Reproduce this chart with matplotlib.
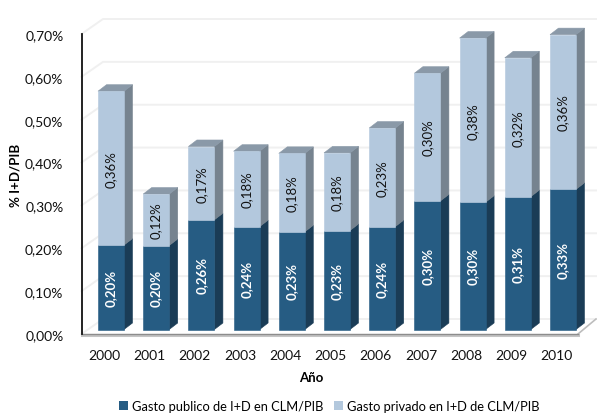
"""Stacked pseudo-3D bars: public and private R&D spend over GDP in CLM."""

import matplotlib

matplotlib.use("Agg")
import matplotlib.pyplot as plt
from matplotlib.patches import Patch, Polygon
from matplotlib.transforms import ScaledTranslation

years = ["2000", "2001", "2002", "2003", "2004", "2005", "2006", "2007", "2008", "2009", "2010"]
publico = [0.197, 0.196, 0.256, 0.240, 0.228, 0.231, 0.240, 0.300, 0.297, 0.310, 0.327]
privado = [0.359, 0.120, 0.171, 0.176, 0.183, 0.181, 0.230, 0.298, 0.383, 0.324, 0.361]
y_ticks = [0.0, 0.1, 0.2, 0.3, 0.4, 0.5, 0.6, 0.7]

W, H = 597, 414
BAR_W = 26 / 45.2
BASE = 0.0105
DX, DY = 8.5 / 45.2, 0.0152
WALL_DX, WALL_DY = 21.5 / 45.2, 0.035


def pct(v):
    return f"{v:.2f}%".replace(".", ",")


def draw_box(ax, x, y0, y1, front, side, top=None):
    l, r = x - BAR_W / 2, x + BAR_W / 2
    ax.add_patch(Polygon([(l, y0), (r, y0), (r, y1), (l, y1)], fc=front, ec=front, lw=0.4, zorder=4, clip_on=False))
    ax.add_patch(Polygon([(r, y0), (r + DX, y0 + DY), (r + DX, y1 + DY), (r, y1)], fc=side, ec=side, lw=0.4, zorder=3, clip_on=False))
    if top:
        ax.add_patch(Polygon([(l, y1), (r, y1), (r + DX, y1 + DY), (l + DX, y1 + DY)], fc=top, ec=top, lw=0.4, zorder=3, clip_on=False))


plt.rcParams["font.family"] = ["Lato", "DejaVu Sans"]
fig = plt.figure(figsize=(W / 100, H / 100), dpi=100)
ax = fig.add_axes([81.5 / W, (H - 335) / H, (W - 81.5) / W, 300 / H])
ax.set_xlim((81.5 - 111) / 45.2, (597 - 111) / 45.2)
ax.set_ylim(0, 0.7)

x0, x1 = ax.get_xlim()
# back wall and floor
for t in y_ticks:
    ax.plot([x0, x0 + WALL_DX, x1], [t, t + WALL_DY, t + WALL_DY], color="#f0f0f0", lw=1.4, clip_on=False, zorder=1)
floor_right = (578 - 111) / 45.2
ax.plot([floor_right, floor_right + 18 / 45.2], [0, WALL_DY], color="#bdbdbd", lw=1.2, clip_on=False, zorder=2)
ax.plot([x0, floor_right], [-0.002, -0.002], color="#c4c4c4", lw=2.2, clip_on=False, zorder=2)
ax.plot([x0, floor_right], [0, 0], color="#8c8c8c", lw=1.0, clip_on=False, zorder=2)

for i, (pub, pri) in enumerate(zip(publico, privado)):
    draw_box(ax, i, BASE, BASE + pub, "#265c83", "#1a3c56")
    draw_box(ax, i, BASE + pub, BASE + pub + pri, "#b3c8dd", "#76838f", "#8a99a8")
    ax.text(i, BASE + pub / 2, pct(pub), rotation=90, ha="center", va="center",
            color="white", fontsize=9.5, fontweight="bold", zorder=5)
    ax.text(i, BASE + pub + pri / 2, pct(pri), rotation=90, ha="center", va="center",
            color="#111111", fontsize=9.5, zorder=5)

ax.set_xticks(range(len(years)), years)
ax.set_yticks(y_ticks, [pct(t) for t in y_ticks])
ax.tick_params(axis="both", length=0, labelsize=10, colors="#111111")
ax.tick_params(axis="x", pad=11)
ax.tick_params(axis="y", pad=13)
# year labels sit left of the bar fronts in the original
shift = ScaledTranslation(-6.5 / 100, 0, fig.dpi_scale_trans)
for label in ax.get_xticklabels():
    label.set_transform(label.get_transform() + shift)
for name in ["top", "right", "bottom"]:
    ax.spines[name].set_visible(False)
ax.spines["left"].set_linewidth(1.3)
ax.spines["left"].set_color("#111111")
ax.patch.set_alpha(0)

fig.text(311 / W, 1 - 378 / H, "Año", ha="center", va="center", fontsize=9.5, fontweight="bold")
fig.text(16 / W, 1 - 175 / H, "% I+D/PIB", rotation=90, ha="center", va="center", fontsize=9.5, fontweight="bold")

handles = [Patch(fc="#265c83"), Patch(fc="#b3c8dd")]
fig.legend(handles, ["Gasto publico de I+D en CLM/PIB", "Gasto privado en I+D de CLM/PIB"],
           loc="center", bbox_to_anchor=(329 / W, 1 - 407 / H), ncol=2, frameon=False, fontsize=9.3,
           handlelength=0.7, handleheight=0.7, handletextpad=0.3, columnspacing=0.8,
           borderpad=0, borderaxespad=0)

fig.savefig("out.png", dpi=100)
